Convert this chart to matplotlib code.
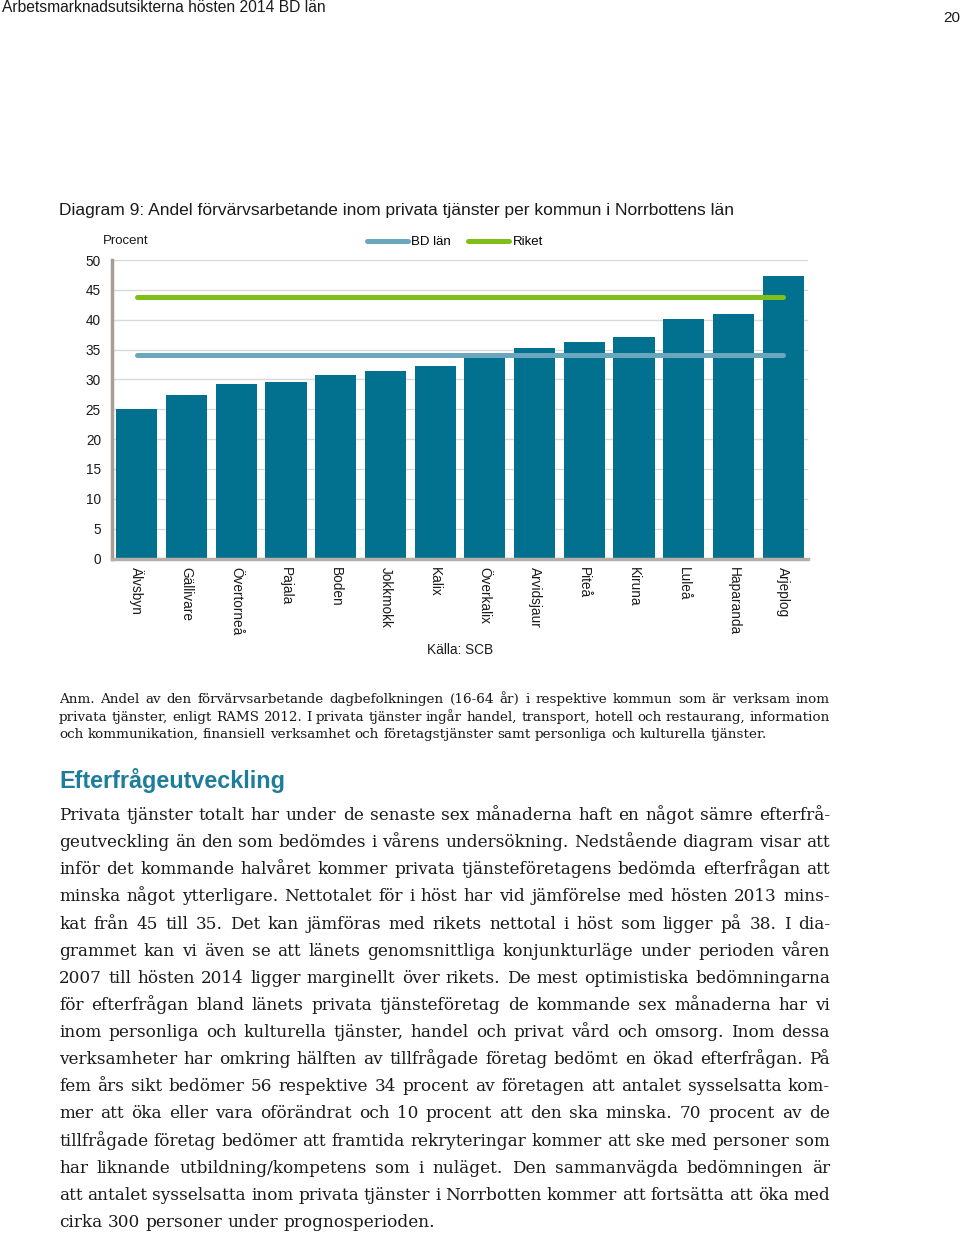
import matplotlib
matplotlib.use('Agg')
import matplotlib.pyplot as plt

W, H = 960, 1236

categories = ['Älvsbyn', 'Gällivare', 'Övertorneå', 'Pajala', 'Boden', 'Jokkmokk', 'Kalix',
              'Överkalix', 'Arvidsjaur', 'Piteå', 'Kiruna', 'Luleå', 'Haparanda', 'Arjeplog']
values = [25.1, 27.4, 29.2, 29.5, 30.7, 31.4, 32.2, 33.7, 35.3, 36.2, 37.1, 40.2, 41.0, 47.3]
bd_lan = 34.1
riket = 43.8
yticks = [0, 5, 10, 15, 20, 25, 30, 35, 40, 45, 50]

header = 'Arbetsmarknadsutsikterna hösten 2014 BD län'
page_no = '20'
title = 'Diagram 9: Andel förvärvsarbetande inom privata tjänster per kommun i Norrbottens län'
source = 'Källa: SCB'
heading = 'Efterfrågeutveckling'
note_lines = [
    'Anm. Andel av den förvärvsarbetande dagbefolkningen (16-64 år) i respektive kommun som är verksam inom',
    'privata tjänster, enligt RAMS 2012. I privata tjänster ingår handel, transport, hotell och restaurang, information',
    'och kommunikation, finansiell verksamhet och företagstjänster samt personliga och kulturella tjänster.',
]
body_lines = [
    'Privata tjänster totalt har under de senaste sex månaderna haft en något sämre efterfrå-',
    'geutveckling än den som bedömdes i vårens undersökning. Nedstående diagram visar att',
    'inför det kommande halvåret kommer privata tjänsteföretagens bedömda efterfrågan att',
    'minska något ytterligare. Nettotalet för i höst har vid jämförelse med hösten 2013 mins-',
    'kat från 45 till 35. Det kan jämföras med rikets nettotal i höst som ligger på 38. I dia-',
    'grammet kan vi även se att länets genomsnittliga konjunkturläge under perioden våren',
    '2007 till hösten 2014 ligger marginellt över rikets. De mest optimistiska bedömningarna',
    'för efterfrågan bland länets privata tjänsteföretag de kommande sex månaderna har vi',
    'inom personliga och kulturella tjänster, handel och privat vård och omsorg. Inom dessa',
    'verksamheter har omkring hälften av tillfrågade företag bedömt en ökad efterfrågan. På',
    'fem års sikt bedömer 56 respektive 34 procent av företagen att antalet sysselsatta kom-',
    'mer att öka eller vara oförändrat och 10 procent att den ska minska. 70 procent av de',
    'tillfrågade företag bedömer att framtida rekryteringar kommer att ske med personer som',
    'har liknande utbildning/kompetens som i nuläget. Den sammanvägda bedömningen är',
    'att antalet sysselsatta inom privata tjänster i Norrbotten kommer att fortsätta att öka med',
    'cirka 300 personer under prognosperioden.',
]

SANS = 'Liberation Sans'
SERIF = 'DejaVu Serif'

fig = plt.figure(figsize=(W / 100, H / 100), dpi=100)
fig.patch.set_facecolor('white')
renderer = fig.canvas.get_renderer()


def px(x):
    return x / W


def py(y):
    return 1 - y / H


def fit_text(s, x0, x1, y, size, **kw):
    t = fig.text(px(x0), py(y), s, fontsize=size, ha='left', **kw)
    w = t.get_window_extent(renderer).width
    t.set_fontsize(size * (x1 - x0) / w)
    return t


def word_widths(words, size, family):
    ws = []
    for w in words:
        t = fig.text(0, 0, w, fontsize=size, family=family)
        ws.append(t.get_window_extent(renderer).width)
        t.remove()
    return ws


def space_width(size, family):
    a = fig.text(0, 0, 'n n', fontsize=size, family=family)
    b = fig.text(0, 0, 'nn', fontsize=size, family=family)
    d = a.get_window_extent(renderer).width - b.get_window_extent(renderer).width
    a.remove(); b.remove()
    return d


def justify(lines, x0, x1, base0, step, size, family, color='#1a1a1a'):
    sp = space_width(size, family)
    for i, line in enumerate(lines):
        words = line.split(' ')
        ws = word_widths(words, size, family)
        last = (i == len(lines) - 1)
        if last or len(words) == 1:
            gap = sp
        else:
            gap = (x1 - x0 - sum(ws)) / (len(words) - 1)
        xx = x0
        yb = base0 + i * step
        for w, wd in zip(words, ws):
            fig.text(px(xx), py(yb), w, fontsize=size, family=family,
                     ha='left', va='baseline', color=color)
            xx += wd + gap


def fit_size(lines, width, size, family):
    sp = space_width(size, family)
    nat = []
    for line in lines[:-1]:
        words = line.split(' ')
        ws = word_widths(words, size, family)
        nat.append(sum(ws) + sp * (len(words) - 1))
    return size * width / max(nat)


# ---------- page header ----------
fit_text(header, 2, 325, 8, 11, family=SANS, va='center', color='#1a1a1a')
fig.text(px(960), py(18), page_no, fontsize=11, family=SANS, ha='right', va='center', color='#1a1a1a')

# ---------- chart ----------
fit_text(title, 59, 737, 211, 12, family=SANS, va='center', color='#1a1a1a')
fig.text(px(103), py(241), 'Procent', fontsize=9.5, family=SANS, ha='left', va='center', color='#1a1a1a')

ax = fig.add_axes([px(112), py(558.5), (808 - 112) / W, (558.5 - 260) / H])
x = list(range(len(categories)))
ax.bar(x, values, width=0.83, color='#02708f', zorder=2)
ax.plot([x[0], x[-1]], [bd_lan, bd_lan], color='#6aa6bd', lw=3.6,
        solid_capstyle='round', zorder=3, label='BD län')
ax.plot([x[0], x[-1]], [riket, riket], color='#80bf19', lw=3.6,
        solid_capstyle='round', zorder=3, label='Riket')
ax.set_xlim(-0.5, len(categories) - 0.5)
ax.set_ylim(0, 50)
ax.set_yticks(yticks)
ax.set_yticklabels([str(v) for v in yticks], fontsize=9.8, family=SANS, color='#1a1a1a')
ax.set_xticks(x)
ax.set_xticklabels(categories, rotation=270, fontsize=9.8, family=SANS,
                   color='#1a1a1a', ha='center', va='top')
ax.tick_params(axis='y', length=0, pad=8)
ax.tick_params(axis='x', length=0, pad=6)
ax.grid(axis='y', color='#d9d9d9', lw=1, zorder=0)
ax.set_axisbelow(True)
for s in ['top', 'right']:
    ax.spines[s].set_visible(False)
ax.spines['left'].set_color('#a59e96')
ax.spines['left'].set_linewidth(2.5)
ax.spines['bottom'].set_color('#b5afa8')
ax.spines['bottom'].set_linewidth(2.5)

leg = ax.legend(loc='center', bbox_to_anchor=(px(455), py(242)), bbox_transform=fig.transFigure,
                ncol=2, frameon=False, handlelength=3.1, handletextpad=0.25,
                columnspacing=1.3, prop={'family': SANS, 'size': 9.5})

fig.text(px(460), py(650), source, fontsize=9.8, family=SANS, ha='center', va='center', color='#1a1a1a')

# ---------- note ----------
note_size = fit_size(note_lines, 771, 10, SERIF)
justify(note_lines, 59, 830, 703, 17.6, note_size, SERIF)

# ---------- heading ----------
fig.text(px(59), py(788), heading, fontsize=16.8, family=SANS, weight='bold',
         ha='left', va='baseline', color='#1e7d9b')

# ---------- body ----------
body_size = fit_size(body_lines, 771, 12, SERIF)
justify(body_lines, 59, 830, 820, 27.13, body_size, SERIF)

fig.savefig('out.png', dpi=100, facecolor='white')
